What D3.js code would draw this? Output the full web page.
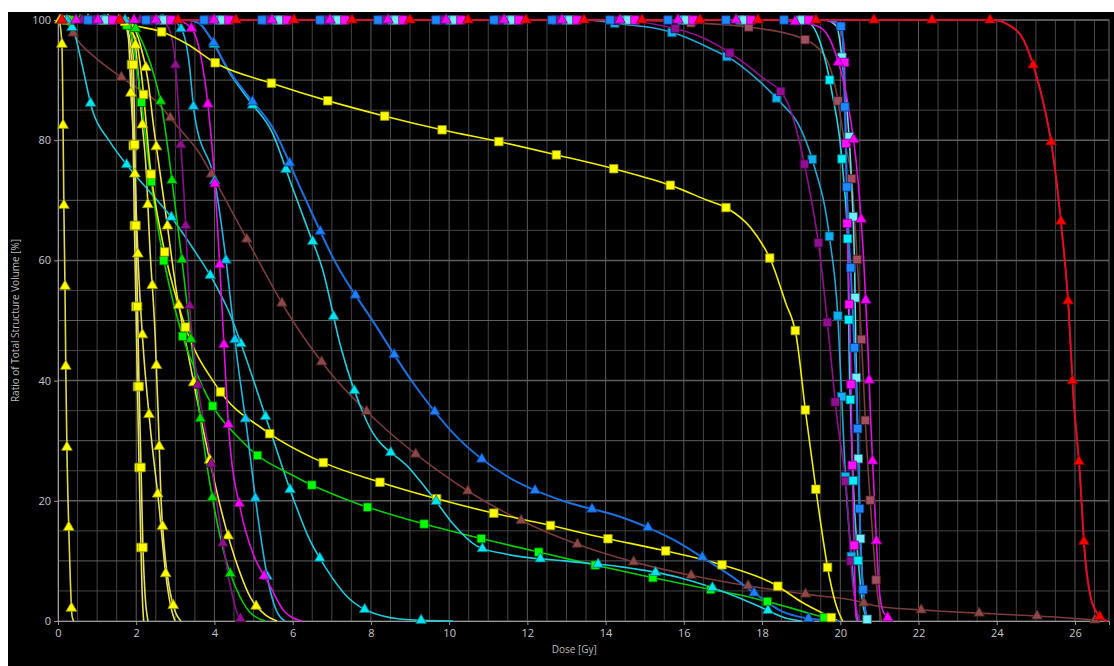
<!DOCTYPE html>
<html>
<head>
<meta charset="utf-8">
<script src="https://cdn.jsdelivr.net/npm/d3@7"></script>
<style>
  html, body { margin: 0; padding: 0; background: #fff; }
  svg { display: block; }
</style>
</head>
<body>
<div id="dvh"></div>
<script>
// DVH curves, [dose Gy, volume %]
const yTriA = [[0,100],[0.03,99.8],[0.1,96],[0.13,82],[0.15,69],[0.18,55],[0.2,41.5],[0.23,28],[0.28,14.5],[0.36,0.8],[0.4,0]];
const ySqA = [[0,100],[1.5,100],[1.7,99.5],[1.8,98],[1.87,94.2],[1.92,80.5],[1.95,67],[1.99,53.4],[2.03,39.8],[2.07,26.3],[2.12,12.6],[2.15,5],[2.19,0]];
const ySqB = [[0,100],[1.55,100],[1.75,99.5],[1.86,98],[1.92,94],[1.96,80.5],[1.99,67],[2.03,53.4],[2.07,39.8],[2.12,26.3],[2.17,12.6],[2.22,5],[2.3,0]];
const yTriB = [[0,100],[1.5,100],[1.7,99.5],[1.8,97],[1.87,87],[1.93,80],[1.97,73.4],[2.05,59.7],[2.17,46.3],[2.35,32.8],[2.58,19.3],[2.76,7.5],[2.88,2.5],[2.99,0]];
const yTriC = [[0,100],[1.7,100],[1.95,97],[2.05,91],[2.15,83],[2.25,75.4],[2.35,62],[2.48,48],[2.56,34.6],[2.63,21],[2.75,10],[2.84,5.8],[3.0,1.5],[3.14,0]];
const yTriD = [[0,100],[1.6,100],[1.9,99],[2.1,96],[2.3,90],[2.45,82],[2.6,75],[2.74,68.5],[3.02,55.2],[3.4,42],[3.81,28.8],[4.27,16],[4.6,9],[4.93,3.8],[5.3,1],[5.6,0]];
const ySqLong = [[0,100],[1.0,100],[1.5,99.8],[2.0,99],[2.66,98],[3.3,96],[4.04,92.8],[5.5,89.4],[6.93,86.5],[8.36,84],[9.84,81.7],[11.32,79.7],[12.78,77.5],[14.24,75.2],[15.7,72.4],[16.6,70],[17.13,68.6],[17.7,65.5],[18.23,59.9],[18.6,53],[18.87,47.6],[19.12,34.4],[19.4,20.8],[19.71,7.7],[19.9,2.5],[20.06,0]];
const ySqMid = [[0,100],[1.6,100],[1.9,98],[2.05,95],[2.15,90],[2.35,76],[2.69,62.6],[3.2,50],[4.06,39],[5.32,31.6],[6.7,26.6],[8.13,23.3],[9.59,20.5],[11.04,18.1],[12.52,16],[13.98,13.8],[15.44,11.8],[16.9,9.5],[18.35,6],[19.0,3.2],[19.7,0.8],[19.95,0]];
const gTri = [[0,100],[1.8,100],[2.07,97.5],[2.4,92],[2.66,85.2],[2.94,72],[3.2,58.4],[3.43,45],[3.68,31.6],[4.01,18.3],[4.3,10],[4.55,5.5],[4.9,1.5],[5.3,0]];
const gSq = [[0,100],[1.6,100],[1.85,98],[2.05,90.5],[2.3,77.2],[2.6,63.7],[3.04,50.7],[3.71,38.8],[4.78,29.4],[6.13,23.8],[7.54,19.8],[9.0,16.8],[10.45,14.3],[11.94,12],[13.39,9.8],[14.85,7.7],[16.33,5.7],[17.79,3.8],[19.25,1.2],[19.9,0]];
const cTriLow = [[0,100],[0.2,99.8],[0.41,98],[0.6,93],[0.88,85],[1.3,80],[1.87,75],[2.4,71],[2.99,66.4],[3.5,61.5],[3.99,56.4],[4.4,51],[4.75,44.8],[5.39,32.4],[6.03,20.1],[6.4,14],[6.85,8.8],[7.4,4],[8.07,1.3],[9.0,0.2],[10.1,0]];
const cTriMid = [[0,100],[2.9,100],[3.19,98],[3.35,93],[3.48,84.7],[4.04,72],[4.32,58.7],[4.55,45.3],[4.83,31.8],[5.09,18.3],[5.42,5.2],[5.6,1.5],[5.8,0]];
const mTri = [[0,100],[3.0,100],[3.4,98.7],[3.65,94],[3.84,85.5],[4.02,72],[4.14,58.6],[4.25,45],[4.37,31.5],[4.68,18.1],[5.0,11],[5.39,6.2],[5.8,1.5],[6.24,0]];
const pTri = [[0,100],[2.6,100],[2.8,99],[2.97,94.7],[3.12,81.2],[3.25,67.6],[3.35,54],[3.55,40.6],[3.89,27.3],[4.19,14],[4.4,6],[4.6,1],[4.75,0]];
const bTri = [[0,100],[0.2,99.5],[0.54,96.3],[1.0,93.5],[1.79,89.7],[2.5,86.5],[3.04,82.4],[3.6,78],[4.04,73],[4.98,61.7],[5.9,51],[6.95,41.4],[8.13,33.4],[9.4,26.5],[10.76,20.5],[12.14,15.8],[13.57,12.1],[15.03,9.3],[16.49,7.2],[17.99,5.5],[19.45,4.2],[20.3,3.5],[20.93,2.5],[22.42,1.7],[23.9,1.2],[25.38,0.7],[26.85,0]];
const dbTri = [[0,100],[3.3,100],[3.6,99.5],[3.9,97],[4.36,91.7],[4.9,87],[5.46,82.4],[6.27,71],[7.09,59.7],[8.08,49.6],[9.08,39.6],[10.2,30.6],[11.5,24],[12.9,20],[14.39,17.3],[15.1,15.5],[15.8,13.3],[16.5,10.5],[17.25,7.3],[17.9,4.2],[18.48,1.7],[19.2,0.4],[19.97,0]];
const cTriHigh = [[0,100],[3.3,100],[3.6,99.5],[3.9,97],[4.36,91.5],[4.9,86.5],[5.46,81.5],[6.0,72],[6.4,65],[6.76,58.6],[7.23,45.6],[7.88,33.4],[9.03,25.1],[9.6,20.5],[10.12,16],[10.7,12.5],[11.47,11.1],[12.95,10],[14.41,9],[15.9,7.2],[17.36,4.0],[18.0,2.2],[18.6,0.5],[19.0,0]];
const lbSq = [[0,100],[13.5,100],[14.44,99.3],[15.2,98.7],[15.9,97.5],[16.6,95.5],[17.33,93],[17.9,90],[18.53,85.9],[18.9,83],[19.3,76.4],[19.73,63.6],[19.94,50.4],[20.04,36.6],[20.14,23],[20.3,9.5],[20.4,2],[20.45,0]];
const pSq = [[0,100],[14,100],[15.5,99],[16.5,97],[17.3,94],[18.0,90.5],[18.6,86.9],[19.14,74.2],[19.48,61],[19.7,47.8],[19.91,34.1],[20.17,20.8],[20.3,7.3],[20.45,1],[20.5,0]];
const bSq = [[0,100],[14,100],[16.0,99.6],[17.8,98.7],[19.0,97],[19.6,94],[19.9,88],[20.1,80],[20.3,72.9],[20.45,58],[20.55,45.8],[20.65,32.1],[20.78,18.6],[20.94,5.2],[21.05,0]];
const mTriHigh = [[0,100],[18,100],[19.0,99.6],[19.5,98.7],[19.9,94],[20.17,87],[20.45,73.5],[20.6,59.9],[20.7,46.4],[20.78,33],[20.88,19.3],[20.99,5.7],[21.1,1.5],[21.35,0]];
const dbSq = [[0,100],[19.5,100],[19.85,99.8],[20.04,98.7],[20.12,85],[20.17,71.4],[20.27,57.9],[20.37,44.3],[20.45,30.8],[20.5,17.1],[20.6,3.7],[20.7,0]];
const cSq = [[0,100],[18.8,100],[19.2,99.5],[19.5,96],[19.78,88.2],[20.07,74.7],[20.2,61.2],[20.22,47.6],[20.27,34],[20.35,20.5],[20.5,7],[20.6,2],[20.72,0]];
const lcSq = [[0,100],[19.6,100],[19.9,99],[20.1,90],[20.3,71.2],[20.37,57.5],[20.4,44],[20.45,30],[20.5,17],[20.6,4],[20.7,0]];
const mSq = [[0,100],[19.5,100],[19.9,99.5],[20.09,96.2],[20.14,82.2],[20.17,68.7],[20.22,55],[20.27,41.4],[20.3,28],[20.35,14.1],[20.4,0.8],[20.43,0]];
const rTri = [[0,100],[23.9,100],[24.3,99.2],[24.7,96.5],[24.97,91.7],[25.2,86],[25.41,78.9],[25.66,65.2],[25.84,51.7],[25.95,38.3],[26.12,25],[26.25,11.3],[26.4,4],[26.6,1],[26.82,0]];

// tick labels
const xTicks = [0, 2, 4, 6, 8, 10, 12, 14, 16, 18, 20, 22, 24, 26];
const yTicks = [0, 20, 40, 60, 80, 100];

const series = [
  { data: bTri, line: '#7a3c3c', fill: '#8b4848', edge: '#4a2020', shape: 'tri', off: 18 },
  { data: yTriA, line: '#e0d84a', fill: '#ffff00', edge: '#9a9a00', shape: 'tri', off: 18 },
  { data: ySqA, line: '#e6e05a', fill: '#ffff00', edge: '#9a9a00', shape: 'sq', off: 40 },
  { data: ySqB, line: '#e6e05a', fill: '#ffff00', edge: '#9a9a00', shape: 'sq', off: 42 },
  { data: yTriB, line: '#e6e05a', fill: '#ffff00', edge: '#9a9a00', shape: 'tri', off: 2 },
  { data: yTriC, line: '#e6e05a', fill: '#ffff00', edge: '#9a9a00', shape: 'tri', off: 30 },
  { data: yTriD, line: '#f0e840', fill: '#ffff00', edge: '#9a9a00', shape: 'tri', off: 50 },
  { data: cTriLow, line: '#20c8d8', fill: '#00e5ee', edge: '#007080', shape: 'tri', off: 15 },
  { data: gTri, line: '#00d000', fill: '#00e000', edge: '#006000', shape: 'tri', off: 22 },
  { data: gSq, line: '#00d000', fill: '#00ff00', edge: '#006000', shape: 'sq', off: 12 },
  { data: ySqMid, line: '#f0f000', fill: '#ffff00', edge: '#9a9a00', shape: 'sq', off: 8 },
  { data: pTri, line: '#8a108a', fill: '#901090', edge: '#400040', shape: 'tri', off: 24 },
  { data: cTriMid, line: '#20b8e0', fill: '#10c8f0', edge: '#006080', shape: 'tri', off: 9 },
  { data: mTri, line: '#e010e0', fill: '#ff00ff', edge: '#800080', shape: 'tri', off: 18 },
  { data: cTriHigh, line: '#20d0e0', fill: '#00e5ee', edge: '#007080', shape: 'tri', off: 47 },
  { data: dbTri, line: '#1e70e0', fill: '#1e80ff', edge: '#0a3a80', shape: 'tri', off: 45 },
  { data: ySqLong, line: '#f0f000', fill: '#ffff00', edge: '#9a9a00', shape: 'sq', off: 46 },
  { data: lbSq, line: '#20a8d8', fill: '#10b0f0', edge: '#005a80', shape: 'sq', off: 34 },
  { data: pSq, line: '#901090', fill: '#901090', edge: '#400040', shape: 'sq', off: 37 },
  { data: bSq, line: '#7a3c3c', fill: '#a05060', edge: '#4a2020', shape: 'sq', off: 52 },
  { data: cSq, line: '#20d8e0', fill: '#00f0ff', edge: '#007080', shape: 'sq', off: 44 },
  { data: lcSq, line: '#60e0e8', fill: '#70f0ff', edge: '#307080', shape: 'sq', off: 48 },
  { data: mSq, line: '#e010e0', fill: '#ff10ff', edge: '#800080', shape: 'sq', off: 55 },
  { data: dbSq, line: '#1e78e0', fill: '#1e88ff', edge: '#0a3a80', shape: 'sq', off: 30 },
  { data: mTriHigh, line: '#e010e0', fill: '#ff00ff', edge: '#800080', shape: 'tri', off: 40 },
  { data: rTri, line: '#e00000', fill: '#ff0000', edge: '#800000', shape: 'tri', off: 4 }
];

const W = 1114, H = 666;
const svg = d3.select('#dvh').append('svg').attr('width', W).attr('height', H);
svg.append('rect').attr('x', 8).attr('y', 12).attr('width', W - 8).attr('height', H - 12).attr('fill', '#000');

const x = d3.scaleLinear().domain([0, 26.87]).range([58, 1109]);
const y = d3.scaleLinear().domain([0, 100]).range([621, 20]);

// grid
const grid = svg.append('g');
grid.selectAll('.vg').data(d3.range(0.5, 26.87, 0.5)).enter().append('line')
  .attr('x1', d => x(d)).attr('x2', d => x(d)).attr('y1', y(100)).attr('y2', y(0))
  .attr('stroke', d => d % 2 === 0 ? '#5a5a5a' : '#454545').attr('stroke-width', 1);
grid.selectAll('.hg').data(d3.range(5, 101, 5)).enter().append('line')
  .attr('x1', x(0)).attr('x2', x(26.87)).attr('y1', d => y(d)).attr('y2', d => y(d))
  .attr('stroke', d => d % 10 === 0 ? '#5e5e5e' : '#454545').attr('stroke-width', d => d % 20 === 0 ? 1.5 : 1);
grid.append('rect').attr('x', x(0)).attr('y', y(100)).attr('width', x(26.87) - x(0)).attr('height', y(0) - y(100))
  .attr('fill', 'none').attr('stroke', '#6a6a6a');

// axes
const xAxis = svg.append('g').attr('transform', `translate(0,${y(0)})`)
  .call(d3.axisBottom(x).tickValues(xTicks).tickSize(4).tickFormat(d3.format('d')));
const yAxis = svg.append('g').attr('transform', `translate(${x(0)},0)`)
  .call(d3.axisLeft(y).tickValues(yTicks).tickSize(4).tickFormat(d3.format('d')));
[xAxis, yAxis].forEach(a => {
  a.select('.domain').attr('stroke', '#9a9a9a');
  a.selectAll('.tick line').attr('stroke', '#9a9a9a');
  a.selectAll('text').attr('fill', '#c8c8c8').style('font-family', 'Open Sans, sans-serif').style('font-size', '11px');
});
xAxis.selectAll('text').attr('dy', '0.85em');

svg.append('text').attr('x', x(13.2)).attr('y', 653).attr('text-anchor', 'middle')
  .attr('fill', '#bdbdbd').style('font-family', 'Open Sans, sans-serif').style('font-size', '10px').text('Dose [Gy]');
svg.append('text').attr('transform', `translate(19,${(y(0) + y(100)) / 2}) rotate(-90)`).attr('text-anchor', 'middle')
  .attr('fill', '#bdbdbd').style('font-family', 'Open Sans, sans-serif').style('font-size', '10px')
  .text('Ratio of Total Structure Volume [%]');

// curves
const line = d3.line().x(d => x(d[0])).y(d => y(d[1])).curve(d3.curveMonotoneX);
const curves = svg.append('g');
const marks = svg.append('g');
const SPACING = 58, KY = 0.72;

series.forEach(s => {
  const path = curves.append('path').datum(s.data).attr('d', line)
    .attr('fill', 'none').attr('stroke', s.line).attr('stroke-width', s.line === '#1e70e0' || s.line === '#1e78e0' ? 2 : 1.6);
  // markers spaced evenly along the drawn curve
  const node = path.node();
  const L = node.getTotalLength();
  let prev = node.getPointAtLength(0), acc = 0, next = s.off;
  const pts = [];
  for (let t = 1; t <= L; t += 1) {
    const p = node.getPointAtLength(t);
    acc += Math.hypot(p.x - prev.x, (p.y - prev.y) * KY);
    if (acc >= next) { pts.push([p.x, p.y]); next += SPACING; }
    prev = p;
  }
  const sym = d3.symbol().type(s.shape === 'tri' ? d3.symbolTriangle : d3.symbolSquare).size(s.shape === 'tri' ? 50 : 72);
  marks.selectAll(null).data(pts).enter().append('path')
    .attr('d', sym).attr('transform', d => `translate(${d[0]},${d[1]})`)
    .attr('fill', s.fill).attr('stroke', s.edge).attr('stroke-width', 0.8);
});
// red line stays on top along 100%
curves.append('path').datum(rTri).attr('d', line).attr('fill', 'none').attr('stroke', '#e01030').attr('stroke-width', 2).attr('opacity', 0.85);
</script>
</body>
</html>
